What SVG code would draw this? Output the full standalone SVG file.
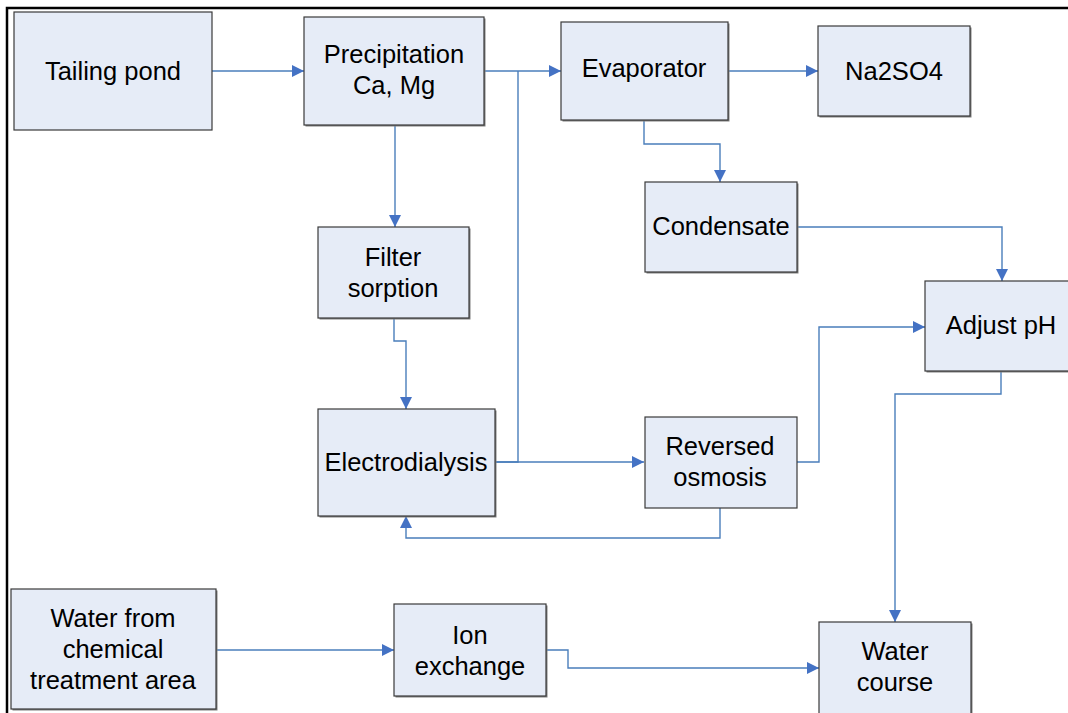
<svg xmlns="http://www.w3.org/2000/svg" width="1068" height="713" viewBox="0 0 1068 713">
<style>
.box{fill:#E6ECF7;stroke:#3A3A3A;stroke-width:1.2}
.sh{fill:#808080}
.t{font-family:"Liberation Sans",Arial,sans-serif;font-size:25.5px;fill:#000;text-anchor:middle}
.c{fill:none;stroke:#4A7EBB;stroke-width:1.4;marker-end:url(#ah)}
.n{fill:none;stroke:#4A7EBB;stroke-width:1.4}
</style>
<defs>
<marker id="ah" markerUnits="userSpaceOnUse" markerWidth="14" markerHeight="12" refX="12" refY="6" orient="auto">
<path d="M0,0 L12,6 L0,12 Z" fill="#4472C4"/>
</marker>
</defs>
<rect x="0" y="0" width="1068" height="713" fill="#fff"/>
<path d="M7,713 V8 H1068" fill="none" stroke="#000" stroke-width="2.5"/>
<g id="connectors">
<path class="c" d="M212,71 H304"/>
<path class="c" d="M484,71 H561"/>
<path class="n" d="M495,462 H518 V71"/>
<path class="c" d="M495,462 H644"/>
<path class="c" d="M395,125 V227"/>
<path class="c" d="M394,318 V341 H406 V409"/>
<path class="c" d="M720,508 V538 H406 V516"/>
<path class="c" d="M644,120 V144 H720 V182"/>
<path class="c" d="M728,71 H818"/>
<path class="c" d="M797,227 H1002 V281"/>
<path class="c" d="M797,462 H819 V327 H925"/>
<path class="c" d="M1001,371 V394 H895 V622"/>
<path class="c" d="M216,650 H394"/>
<path class="c" d="M546,650 H568 V668 H819"/>
</g>
<g id="tailing-pond">
<rect class="box" x="14" y="12" width="198" height="118"/>
<text class="t" x="113" y="80">Tailing pond</text>
</g>
<g id="precipitation">
<rect class="sh" x="305.5" y="18.5" width="180" height="108"/>
<rect class="box" x="304" y="17" width="180" height="108"/>
<text class="t" x="394" y="63">Precipitation</text>
<text class="t" x="394" y="94">Ca, Mg</text>
</g>
<g id="evaporator">
<rect class="sh" x="562.5" y="23.5" width="167" height="98"/>
<rect class="box" x="561" y="22" width="167" height="98"/>
<text class="t" x="644" y="77">Evaporator</text>
</g>
<g id="na2so4">
<rect class="sh" x="819.5" y="27.5" width="152" height="90"/>
<rect class="box" x="818" y="26" width="152" height="90"/>
<text class="t" x="894" y="80">Na2SO4</text>
</g>
<g id="condensate">
<rect class="sh" x="646.5" y="183.5" width="152" height="90"/>
<rect class="box" x="645" y="182" width="152" height="90"/>
<text class="t" x="721" y="235">Condensate</text>
</g>
<g id="filter-sorption">
<rect class="sh" x="319.5" y="228.5" width="151" height="91"/>
<rect class="box" x="318" y="227" width="151" height="91"/>
<text class="t" x="393" y="266">Filter</text>
<text class="t" x="393" y="297">sorption</text>
</g>
<g id="electrodialysis">
<rect class="sh" x="319.5" y="410.5" width="177" height="107"/>
<rect class="box" x="318" y="409" width="177" height="107"/>
<text class="t" x="406" y="471">Electrodialysis</text>
</g>
<g id="reversed-osmosis">
<rect class="box" x="645" y="417" width="152" height="91"/>
<text class="t" x="720" y="455">Reversed</text>
<text class="t" x="720" y="486">osmosis</text>
</g>
<g id="adjust-ph">
<rect class="sh" x="926.5" y="282.5" width="152" height="90"/>
<rect class="box" x="925" y="281" width="152" height="90"/>
<text class="t" x="1001" y="334">Adjust pH</text>
</g>
<g id="water-from-chemical">
<rect class="sh" x="12.5" y="590.5" width="205" height="120"/>
<rect class="box" x="11" y="589" width="205" height="120"/>
<text class="t" x="113" y="627">Water from</text>
<text class="t" x="113" y="658">chemical</text>
<text class="t" x="113" y="689">treatment area</text>
</g>
<g id="ion-exchange">
<rect class="sh" x="395.5" y="605.5" width="152" height="92"/>
<rect class="box" x="394" y="604" width="152" height="92"/>
<text class="t" x="470" y="644">Ion</text>
<text class="t" x="470" y="675">exchange</text>
</g>
<g id="water-course">
<rect class="sh" x="820.5" y="623.5" width="152" height="100"/>
<rect class="box" x="819" y="622" width="152" height="100"/>
<text class="t" x="895" y="660">Water</text>
<text class="t" x="895" y="691">course</text>
</g>
</svg>
